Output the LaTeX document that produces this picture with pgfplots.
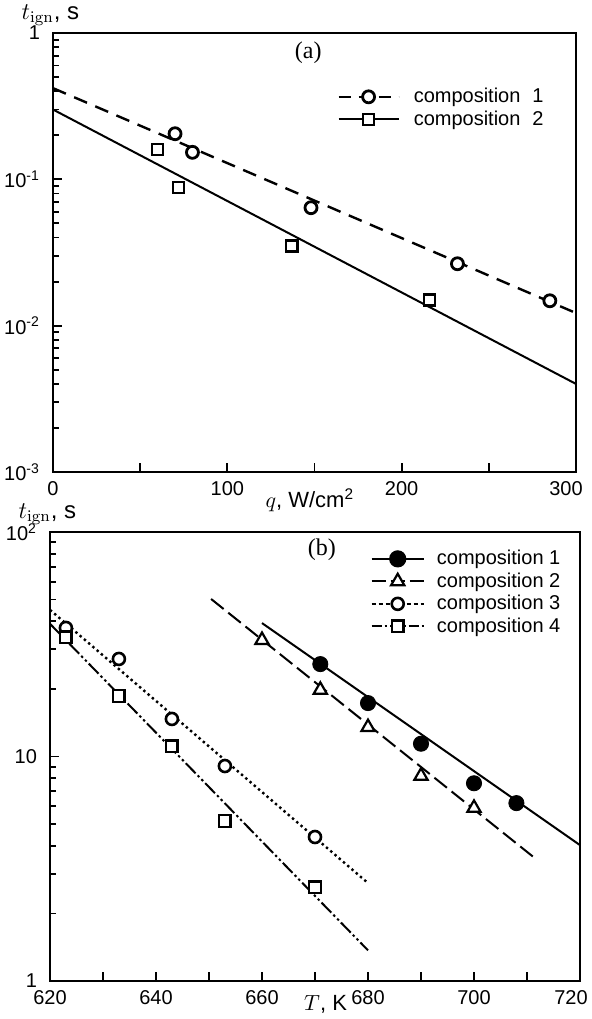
\documentclass[border=0pt]{standalone}
\usepackage[no-math]{fontspec}
\setmainfont{Liberation Sans}
\newfontfamily\seriffont{Liberation Serif}
\usepackage{pgfplots}
\pgfplotsset{compat=1.18}
\pgfplotsset{
  common/.style={
    scale only axis, anchor=south west,
    tick pos=left, tick align=inside,
    major tick length=4.5pt, minor tick length=3pt,
    every tick/.style={black, line width=0.9pt},
    axis line style={line width=1.2pt},
    ticklabel style={font=\fontsize{10}{12}\selectfont},
    yticklabel style={xshift=-3pt},
    xticklabel style={yshift=-1pt},
    every axis y label/.style={at={(axis description cs:-0.005,1)}, anchor=center, yshift=9pt, font=\fontsize{12}{14}\selectfont},
    legend cell align=left,
  },
}
\begin{document}
\begin{tikzpicture}
\useasboundingbox (0,0) rectangle (296pt,-509.5pt);
% ---------------- (a) ----------------
\begin{axis}[common,
  at={(26.5pt,-236pt)}, width=261.5pt, height=219.5pt,
  xmin=0, xmax=300, ymode=log, ymin=1e-3, ymax=1,
  xtick={0,50,100,150,200,250,300}, xticklabels={0,,100,,200,,\hspace*{-10pt}300},
  ytick={0.001,0.01,0.1,1},
  yticklabels={10\textsuperscript{-3},10\textsuperscript{-2},10\textsuperscript{-1},1},
  minor ytick={0.002,0.003,0.004,0.005,0.006,0.007,0.008,0.009,0.02,0.03,0.04,0.05,0.06,0.07,0.08,0.09,0.2,0.3,0.4,0.5,0.6,0.7,0.8,0.9},
  xlabel={$q$, W/cm\textsuperscript{2}},
  xlabel style={at={(axis description cs:0.491,0)}, anchor=center, yshift=-14pt, font=\fontsize{11}{13}\selectfont},
  ylabel={$t_{\mathrm{ign}}$, s},
  legend image code/.code={\draw[mark repeat=2,mark phase=2,#1] plot coordinates {(0pt,0pt)(15pt,0pt)(30pt,0pt)};},
  legend style={draw=none, fill=none, at={(axis description cs:0.543,0.88)}, anchor=north west, inner sep=0pt,
    font=\fontsize{10}{12}\selectfont, row sep=0.5pt, column sep=6pt, nodes={inner sep=1pt}},
]
\addplot[black, line width=1.2pt, dash pattern=on 7pt off 4.5pt, forget plot] coordinates {(0,0.42) (300,0.0122)};
\addplot[black, line width=1pt, forget plot] coordinates {(0,0.30) (300,0.0040)};
\addplot[only marks, mark=*, mark size=3pt, mark options={fill=white, draw=black, line width=1.4pt}, forget plot]
  coordinates {(70,0.205) (80,0.153) (148,0.064) (232,0.0265) (285,0.0148)};
\addplot[only marks, mark=square*, mark size=2.8pt, mark options={fill=white, draw=black, line width=1.2pt}, forget plot]
  coordinates {(60,0.16) (72,0.088) (137,0.035) (216,0.015)};
\addlegendimage{black, line width=1.2pt, dash pattern=on 6pt off 4pt, mark=*, mark size=3pt, mark options={solid, fill=white, line width=1.4pt}}
\addlegendentry{composition\hspace{0.6em}1}
\addlegendimage{black, line width=1pt, mark=square*, mark size=2.8pt, mark options={solid, fill=white, line width=1.2pt}}
\addlegendentry{composition\hspace{0.6em}2}
\node[font=\seriffont\fontsize{12}{14}\selectfont] at (axis description cs:0.488,0.955) {(a)};
\end{axis}
% ---------------- (b) ----------------
\begin{axis}[common,
  at={(25pt,-490.5pt)}, width=265pt, height=224.5pt,
  xmin=620, xmax=720, ymode=log, ymin=1, ymax=100,
  xtick={620,630,...,720}, xticklabels={620,,640,,660,,680,,700,,\hspace*{-9pt}720},
  ytick={1,10,100}, yticklabels={1,10,10\textsuperscript{2}},
  minor ytick={2,3,4,5,6,7,8,9,20,30,40,50,60,70,80,90},
  xlabel={$T$, K},
  xlabel style={at={(axis description cs:0.52,0)}, anchor=center, yshift=-11.5pt, font=\fontsize{11}{13}\selectfont},
  ylabel={$t_{\mathrm{ign}}$, s},
  legend image code/.code={\draw[mark repeat=2,mark phase=2,#1] plot coordinates {(0pt,0pt)(13pt,0pt)(26pt,0pt)};},
  legend style={draw=none, fill=none, at={(axis description cs:0.604,0.965)}, anchor=north west, inner sep=0pt,
    font=\fontsize{10}{12}\selectfont, row sep=0.5pt, column sep=5pt, nodes={inner sep=1pt}},
]
\addplot[black, line width=1pt, forget plot] coordinates {(660,39.3) (720,4.03)};
\addplot[black, line width=1pt, dash pattern=on 8pt off 3pt, forget plot] coordinates {(650.4,50.3) (711.2,3.57)};
\addplot[black, line width=1.2pt, dash pattern=on 1.2pt off 1.6pt, forget plot] coordinates {(620,45) (680,2.73)};
\addplot[black, line width=1pt, dash pattern=on 7pt off 1.5pt on 1.2pt off 1.5pt on 1.2pt off 1.5pt, forget plot] coordinates {(620,39) (680,1.37)};
\addplot[only marks, mark=*, mark size=3.8pt, mark options={fill=black, draw=black}, forget plot]
  coordinates {(671,25.8) (680,17.3) (690,11.4) (700,7.6) (708,6.2)};
\addplot[only marks, mark=triangle*, mark size=3.8pt, mark options={fill=white, draw=black, line width=1.1pt}, forget plot]
  coordinates {(660,33) (671,19.8) (680,13.5) (690,8.2) (700,5.9)};
\addplot[only marks, mark=*, mark size=3pt, mark options={fill=white, draw=black, line width=1.3pt}, forget plot]
  coordinates {(623,37.4) (633,27.2) (643,14.7) (653,9.07) (670,4.38)};
\addplot[only marks, mark=square*, mark size=2.9pt, mark options={fill=white, draw=black, line width=1.2pt}, forget plot]
  coordinates {(623,34) (633,18.6) (643,11.1) (653,5.16) (670,2.62)};
\addlegendimage{black, line width=1pt, mark=*, mark size=3.8pt, mark options={solid, fill=black}}
\addlegendentry{composition 1}
\addlegendimage{black, line width=1pt, dash pattern=on 7pt off 2.5pt, mark=triangle*, mark size=3.8pt, mark options={solid, fill=white, line width=1.1pt}}
\addlegendentry{composition 2}
\addlegendimage{black, line width=1.2pt, dash pattern=on 2pt off 1.5pt, mark=*, mark size=3pt, mark options={solid, fill=white, line width=1.3pt}}
\addlegendentry{composition 3}
\addlegendimage{black, line width=1pt, dash pattern=on 5pt off 1.5pt on 1.2pt off 1.5pt, mark=square*, mark size=2.9pt, mark options={solid, fill=white, line width=1.2pt}}
\addlegendentry{composition 4}
\node[font=\seriffont\fontsize{12}{14}\selectfont] at (axis description cs:0.513,0.96) {(b)};
\end{axis}
\end{tikzpicture}
\end{document}
